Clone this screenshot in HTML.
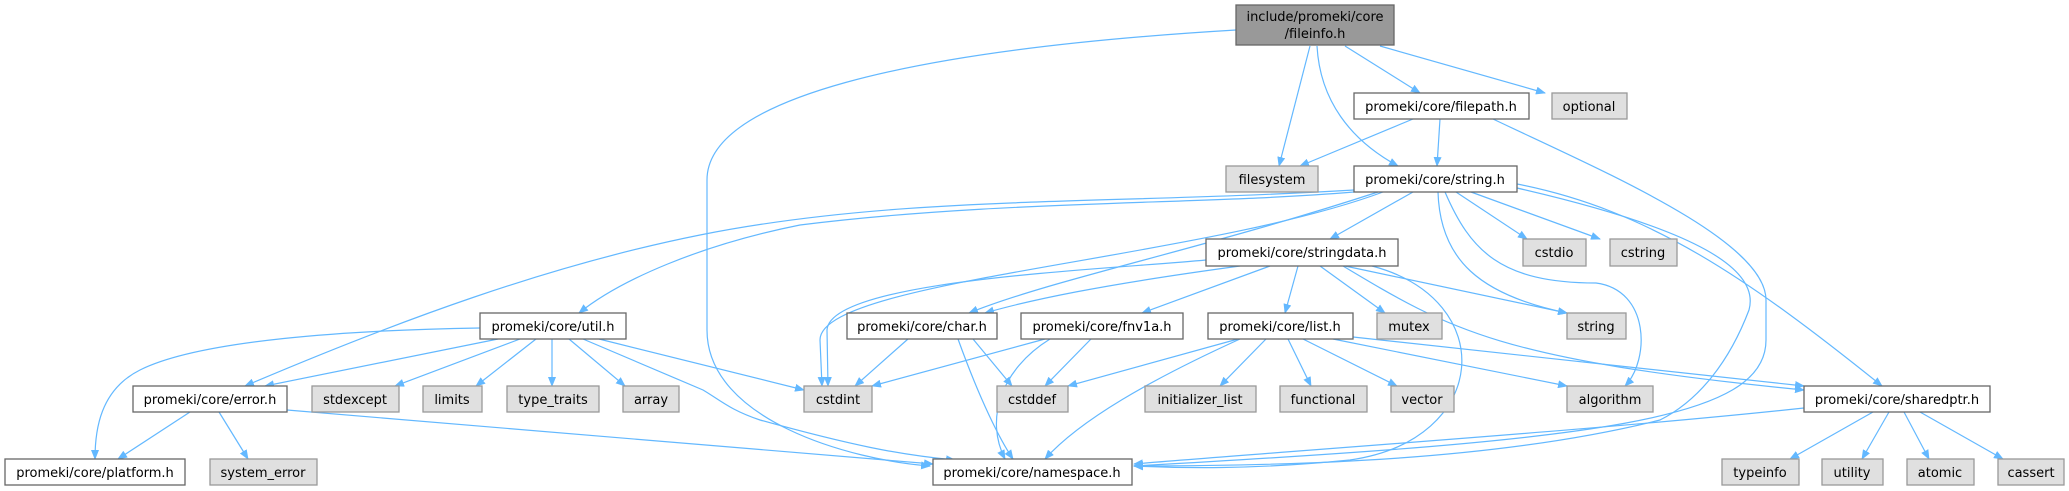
<!DOCTYPE html>
<html><head><meta charset="utf-8"><style>
html,body{margin:0;padding:0;background:#fff;}
svg{display:block;}
text{font-family:"DejaVu Sans","Liberation Sans",sans-serif;font-size:13px;fill:#000;}
.n{fill:#fff;stroke:#666;stroke-width:1.3;}
.g{fill:#e0e0e0;stroke:#999;stroke-width:1.3;}
.m{fill:#999;stroke:#666;stroke-width:1.3;}
.e{fill:none;stroke:#63b8ff;stroke-width:1.2;marker-end:url(#a);}
</style></head><body>
<svg width="2069" height="491" viewBox="0 0 2069 491" xmlns="http://www.w3.org/2000/svg">
<defs><marker id="a" markerWidth="10" markerHeight="8" refX="9" refY="4" orient="auto" markerUnits="userSpaceOnUse"><path d="M0,0 L10,4 L0,8 z" fill="#63b8ff"/></marker></defs>
<g>
<path class="e" d="M1236,30 C900,50 707,100 707,180 L707,330 C707,420 850,460 930,466"/>
<path class="e" d="M1310,46 L1279,166"/>
<path class="e" d="M1317,46 C1320,100 1350,140 1398,166"/>
<path class="e" d="M1345,46 L1420,93"/>
<path class="e" d="M1380,46 L1545,93"/>
<path class="e" d="M1413,119 L1300,166"/>
<path class="e" d="M1440,119 L1437,166"/>
<path class="e" d="M1493,119 C1600,170 1766,240 1766,300 L1766,340 C1766,420 1600,440 1134,466"/>
<path class="e" d="M1354,190 C1100,205 900,195 700,235 C550,265 400,320 245,386"/>
<path class="e" d="M1354,192 C1200,205 1000,200 800,225 C700,245 620,280 579,313"/>
<path class="e" d="M1383,192 C1200,260 820,280 820,340 L822,386"/>
<path class="e" d="M1378,192 C1200,250 1050,280 969,313"/>
<path class="e" d="M1413,192 L1330,239"/>
<path class="e" d="M1456,192 L1527,239"/>
<path class="e" d="M1471,192 L1600,239"/>
<path class="e" d="M1438,192 C1440,260 1480,295 1567,313"/>
<path class="e" d="M1445,192 C1470,250 1500,283 1596,283 C1650,290 1650,360 1625,386"/>
<path class="e" d="M1517,188 C1700,230 1760,270 1749,310 C1730,360 1700,400 1660,420 C1500,460 1300,466 1134,466"/>
<path class="e" d="M1517,184 C1650,210 1750,280 1882,386"/>
<path class="e" d="M1206,260 C1100,270 830,280 827,330 L828,386"/>
<path class="e" d="M1240,266 C1100,285 1030,300 985,313"/>
<path class="e" d="M1270,266 L1142,313"/>
<path class="e" d="M1298,266 L1285,313"/>
<path class="e" d="M1320,266 L1385,313"/>
<path class="e" d="M1345,266 L1567,313"/>
<path class="e" d="M1343,266 C1450,330 1500,360 1804,390"/>
<path class="e" d="M1372,266 C1500,300 1490,440 1350,460 C1250,470 1180,468 1134,466"/>
<path class="e" d="M908,339 L855,386"/>
<path class="e" d="M973,339 L1012,386"/>
<path class="e" d="M958,339 C980,400 1000,440 1013,459"/>
<path class="e" d="M1045,339 L872,386"/>
<path class="e" d="M1091,339 L1045,386"/>
<path class="e" d="M1050,339 C1000,370 985,420 1005,459"/>
<path class="e" d="M1238,339 L1068,386"/>
<path class="e" d="M1240,339 C1150,380 1080,420 1045,459"/>
<path class="e" d="M1266,339 L1220,386"/>
<path class="e" d="M1288,339 L1311,386"/>
<path class="e" d="M1303,339 L1397,386"/>
<path class="e" d="M1333,339 L1567,386"/>
<path class="e" d="M1353,337 L1804,386"/>
<path class="e" d="M1804,408 C1600,430 1300,450 1134,464"/>
<path class="e" d="M1873,412 L1790,459"/>
<path class="e" d="M1889,412 L1862,459"/>
<path class="e" d="M1904,412 L1929,459"/>
<path class="e" d="M1920,412 L2003,459"/>
<path class="e" d="M480,328 C350,330 200,340 140,370 C100,390 95,430 95,459"/>
<path class="e" d="M498,339 L265,386"/>
<path class="e" d="M520,339 L395,386"/>
<path class="e" d="M536,339 L476,386"/>
<path class="e" d="M552,339 L552,386"/>
<path class="e" d="M569,339 L625,386"/>
<path class="e" d="M599,339 L804,390"/>
<path class="e" d="M583,339 L703,390 C720,400 730,410 760,420 C850,445 900,455 955,460"/>
<path class="e" d="M190,412 L118,459"/>
<path class="e" d="M219,412 L248,459"/>
<path class="e" d="M287,410 L933,464"/>
</g>
<g text-anchor="middle">
<rect class="m" x="1236" y="5" width="158" height="40"/><text x="1315" y="21">include/promeki/core</text><text x="1315" y="38">/fileinfo.h</text>
<rect class="n" x="1354" y="93" width="175" height="26"/><text x="1441" y="111">promeki/core/filepath.h</text>
<rect class="g" x="1552" y="93" width="75" height="26"/><text x="1589" y="111">optional</text>
<rect class="g" x="1226" y="166" width="92" height="26"/><text x="1272" y="184">filesystem</text>
<rect class="n" x="1354" y="166" width="163" height="26"/><text x="1435" y="184">promeki/core/string.h</text>
<rect class="n" x="1206" y="239" width="192" height="27"/><text x="1302" y="257">promeki/core/stringdata.h</text>
<rect class="g" x="1523" y="239" width="63" height="27"/><text x="1554" y="257">cstdio</text>
<rect class="g" x="1610" y="239" width="67" height="27"/><text x="1643" y="257">cstring</text>
<rect class="n" x="480" y="313" width="146" height="26"/><text x="553" y="331">promeki/core/util.h</text>
<rect class="n" x="847" y="313" width="150" height="26"/><text x="922" y="331">promeki/core/char.h</text>
<rect class="n" x="1021" y="313" width="162" height="26"/><text x="1102" y="331">promeki/core/fnv1a.h</text>
<rect class="n" x="1208" y="313" width="145" height="26"/><text x="1280" y="331">promeki/core/list.h</text>
<rect class="g" x="1377" y="313" width="65" height="26"/><text x="1409" y="331">mutex</text>
<rect class="g" x="1567" y="313" width="59" height="26"/><text x="1596" y="331">string</text>
<rect class="n" x="133" y="386" width="154" height="26"/><text x="210" y="404">promeki/core/error.h</text>
<rect class="g" x="312" y="386" width="87" height="26"/><text x="355" y="404">stdexcept</text>
<rect class="g" x="423" y="386" width="59" height="26"/><text x="452" y="404">limits</text>
<rect class="g" x="507" y="386" width="92" height="26"/><text x="553" y="404">type_traits</text>
<rect class="g" x="623" y="386" width="56" height="26"/><text x="651" y="404">array</text>
<rect class="g" x="804" y="386" width="68" height="26"/><text x="838" y="404">cstdint</text>
<rect class="g" x="997" y="386" width="71" height="26"/><text x="1032" y="404">cstddef</text>
<rect class="g" x="1145" y="386" width="111" height="26"/><text x="1200" y="404">initializer_list</text>
<rect class="g" x="1280" y="386" width="87" height="26"/><text x="1323" y="404">functional</text>
<rect class="g" x="1391" y="386" width="63" height="26"/><text x="1422" y="404">vector</text>
<rect class="g" x="1567" y="386" width="86" height="26"/><text x="1610" y="404">algorithm</text>
<rect class="n" x="1804" y="386" width="186" height="26"/><text x="1897" y="404">promeki/core/sharedptr.h</text>
<rect class="n" x="5" y="459" width="180" height="26"/><text x="95" y="477">promeki/core/platform.h</text>
<rect class="g" x="210" y="459" width="107" height="26"/><text x="263" y="477">system_error</text>
<rect class="n" x="933" y="459" width="199" height="26"/><text x="1032" y="477">promeki/core/namespace.h</text>
<rect class="g" x="1722" y="459" width="77" height="26"/><text x="1760" y="477">typeinfo</text>
<rect class="g" x="1822" y="459" width="61" height="26"/><text x="1852" y="477">utility</text>
<rect class="g" x="1907" y="459" width="67" height="26"/><text x="1940" y="477">atomic</text>
<rect class="g" x="1998" y="459" width="66" height="26"/><text x="2031" y="477">cassert</text>
</g>
</svg>
</body></html>
